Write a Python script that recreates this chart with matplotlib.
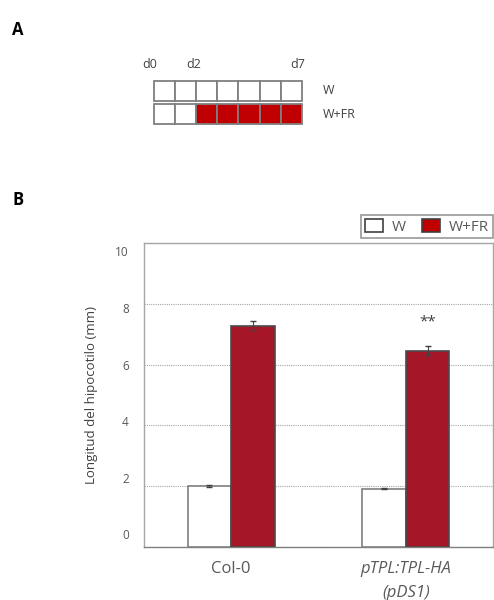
import matplotlib
matplotlib.use("Agg")
import matplotlib.pyplot as plt
import matplotlib.transforms as mtransforms
from matplotlib.patches import Rectangle, Patch
import numpy as np

plt.rcParams['font.family'] = ['Open Sans', 'DejaVu Sans']

# panel A: light schedule
days = ["d0", "d1", "d2", "d3", "d4", "d5", "d6", "d7"]
day_labels = {"d0": 0, "d2": 2, "d7": 7}
schedule_rows = ["W", "W+FR"]
fr_start = 2

# panel B: hypocotyl length
genotypes = ["Col-0", "pTPL:TPL-HA\n(pDS1)"]
w_mean = [2.02, 1.92]
w_err = [0.03, 0.02]
fr_mean = [7.28, 6.46]
fr_err = [0.15, 0.15]
signif = ["", "**"]

red_bar = "#a51728"
red_cell = "#c00000"
grey_txt = "#595959"

fig = plt.figure(figsize=(4.94, 6.00), dpi=100)

# pixel-coordinate overlay for panel A and the panel letters
ov = fig.add_axes([0, 0, 1, 1])
ov.set_xlim(0, 494)
ov.set_ylim(600, 0)
ov.axis("off")

ov.text(18, 30, "A", fontsize=12, fontweight="bold", ha="center", va="center")
ov.text(18, 200, "B", fontsize=12, fontweight="bold", ha="center", va="center")

x0, cw = 153.5, 21.2
row_y = [81, 104]
row_h = 20
n_cells = len(days) - 1
for r, name in enumerate(schedule_rows):
    for c in range(n_cells):
        fc = red_cell if (name == "W+FR" and c >= fr_start) else "white"
        ov.add_patch(Rectangle((x0 + c * cw, row_y[r]), cw, row_h,
                               facecolor=fc, edgecolor="#7f7f7f", lw=1.3))
    ov.text(x0 + n_cells * cw + 21, row_y[r] + row_h / 2, name, fontsize=9,
            color="#404040", ha="left", va="center")
for lab, d in day_labels.items():
    xc = x0 + d * cw
    if d == 0:
        xc -= 4
    elif d == n_cells:
        xc -= 4
    else:
        xc -= 2
    ov.text(xc, 65, lab, fontsize=9, color="#404040", ha="center", va="center")

# panel B
ax = fig.add_axes([144 / 494, (600 - 547) / 600, 349 / 494, 304 / 600])
x = np.arange(len(genotypes))
bw = 0.25
ax.bar(x - bw / 2, w_mean, bw, yerr=w_err, color="white", edgecolor="#7f7f7f",
       lw=1.2, error_kw=dict(ecolor="#404040", elinewidth=0.8, capsize=2.5), zorder=3)
ax.bar(x + bw / 2, fr_mean, bw, yerr=fr_err, color=red_bar, edgecolor="#4a4a4a",
       lw=1.2, error_kw=dict(ecolor="#404040", elinewidth=0.8, capsize=2.5), zorder=3)
for i, s in enumerate(signif):
    if s:
        ax.text(x[i] + bw / 2, fr_mean[i] + fr_err[i] + 0.8, s, ha="center",
                va="center", fontsize=11, color="#404040")

ax.set_xlim(-0.5, 1.5)
ax.set_ylim(0, 10)
yt = [0, 2, 4, 6, 8, 10]
ax.set_yticks(yt)
ax.yaxis.grid(True, linestyle=(0, (1, 1)), color="#a6a6a6", lw=0.8, zorder=0)
ax.tick_params(axis="y", length=0, pad=11, labelsize=8.5, labelcolor=grey_txt)
# the labels sit on a slightly compressed scale relative to the gridlines
for v, lbl in zip(yt, ax.get_yticklabels()):
    shift = mtransforms.ScaledTranslation(0, (12.7 - 2.1 * v) / 100, fig.dpi_scale_trans)
    lbl.set_transform(lbl.get_transform() + shift)
ax.set_xticks(x)
ax.set_xticklabels(genotypes, fontsize=12, color=grey_txt)
ax.get_xticklabels()[1].set_style("italic")
ax.tick_params(axis="x", length=0, pad=10)
for lbl in ax.get_xticklabels():
    lbl.set_linespacing(1.65)
ax.set_ylabel("Longitud del hipocotilo (mm)", fontsize=9.5, color="#404040", labelpad=12)
for sp in ax.spines.values():
    sp.set_color("#a6a6a6")
    sp.set_linewidth(1.0)
ax.spines["bottom"].set_color("#808080")

leg = ax.legend(handles=[Patch(facecolor="white", edgecolor="#404040", lw=1.2),
                         Patch(facecolor=red_cell, edgecolor="#404040", lw=1.2)],
                labels=["W", "W+FR"], loc="lower right", bbox_to_anchor=(1.0, 1.015),
                ncol=2, frameon=True, fancybox=False, fontsize=11,
                handlelength=1.2, handleheight=1.0, handletextpad=0.6,
                columnspacing=1.0, borderpad=0.25, borderaxespad=0)
leg.get_frame().set_edgecolor("#7f7f7f")
leg.get_frame().set_linewidth(1.2)
for t in leg.get_texts():
    t.set_color(grey_txt)

fig.savefig("out.png", dpi=100)
